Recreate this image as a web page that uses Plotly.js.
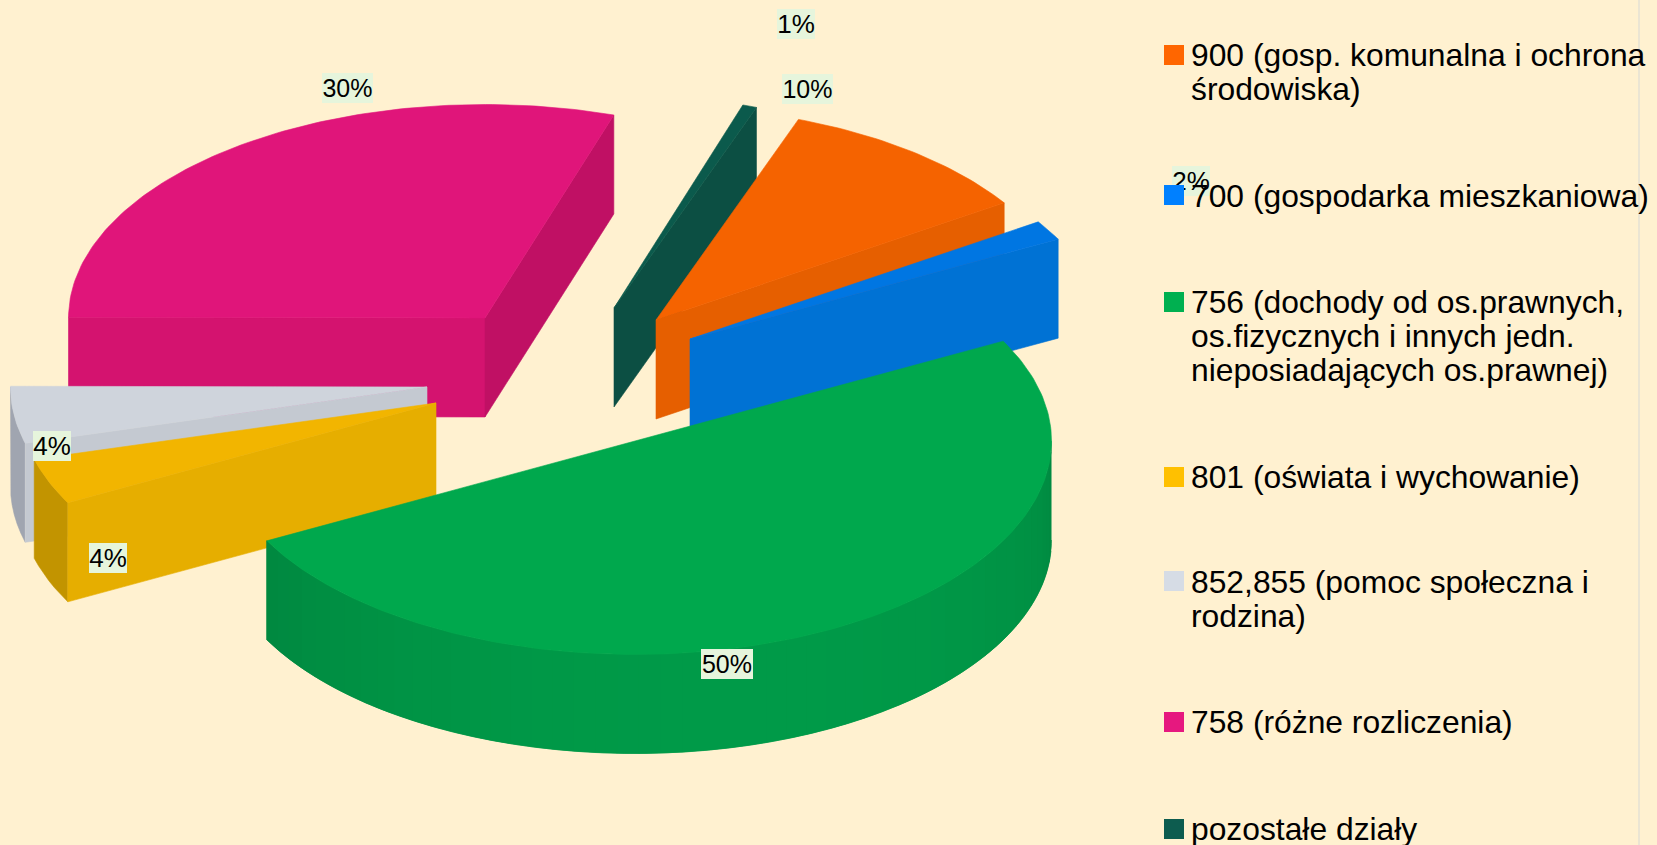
<!DOCTYPE html>
<html>
<head>
<meta charset="utf-8">
<script src="https://cdn.plot.ly/plotly-3.0.1.min.js"></script>
<style>html,body{margin:0;padding:0;background:#FFF1D0;overflow:hidden}#chart{width:1657px;height:845px}</style>
</head>
<body>
<div id="chart"></div>
<script>
// ---- data, in pie order (clockwise) ----
const categories = ['900','700','756','801','852,855','758','pozostałe działy'];
const shares = [10.2, 1.5, 50, 3.5, 4.3, 29.95, 0.55];
const legendLines = [
  ['900 (gosp. komunalna i ochrona','środowiska)'],
  ['700 (gospodarka mieszkaniowa)'],
  ['756 (dochody od os.prawnych,','os.fizycznych i innych jedn.','nieposiadających os.prawnej)'],
  ['801 (oświata i wychowanie)'],
  ['852,855 (pomoc społeczna i','rodzina)'],
  ['758 (różne rozliczenia)'],
  ['pozostałe działy']
];
// ---- styles ----
const legendColors = ['#FF6600','#0080FF','#00B050','#FFC000','#D6DCE5','#E6187F','#0D5C4F'];
const topColors    = ['#F56300','#0076E2','#00A84D','#F2B500','#CFD4DC','#E0157A','#0B5A4C'];
const wallColors   = ['#E65F00','#0072D4','#009A48','#E6AE00','#C4C9D1','#D4136F','#0C4F43'];
const endWallColors= ['#E65F00','#0072D4','#009A48','#E6AE00','#C4C9D1','#C01064','#0C4F43'];
const rimColors    = ['#E65F00','#0072D4','#009A48','#C29400','#A0A5B0','#D4136F','#0C4F43'];
// ---- layout parameters (pixels) ----
const cx = 635, cy = 441, rx = 416.5, ry = 213.5, depth = 99, startAngle = 20;
const pullX = [21, 55, 0, -199, -208, -150, -21];
const pullY = [-121, -102, 0, -38, -54, -123, -133];
const drawOrder = [5, 6, 0, 1, 4, 3, 2];
const labelX = [807, 1191, 727, 108, 52, 347, 796];
const labelY = [89, 181, 664, 558, 446, 88, 24];
const labelW = [51, 38, 52, 38, 38, 51, 38];
const labelSize = [25, 26, 25, 26, 26, 25, 26];
const swatchY = [55, 195, 302, 477, 581, 722, 829];
const lineY = [[55, 89], [196], [302, 336, 370], [476.5], [582, 616], [722], [829]];

const rad = d => d * Math.PI / 180;
const pt = (a, ox, oy, dz) => [cx + ox + rx * Math.sin(rad(a)), cy + oy - ry * Math.cos(rad(a)) + dz];
function poly(points, color) {
  return {
    type: 'scatter', mode: 'lines', x: points.map(p => p[0]), y: points.map(p => p[1]),
    fill: 'toself', fillcolor: color, line: {color: color, width: 0.6},
    hoverinfo: 'skip', showlegend: false
  };
}
function hexMix(a, b, t) {
  const p = s => [1, 3, 5].map(i => parseInt(s.substr(i, 2), 16));
  const A = p(a), B = p(b);
  return 'rgb(' + A.map((v, i) => Math.round(v + (B[i] - v) * t)).join(',') + ')';
}
const total = shares.reduce((s, v) => s + v, 0);
const starts = [];
let acc = startAngle;
shares.forEach(v => { starts.push(acc); acc += v / total * 360; });

const traces = [];
drawOrder.forEach(i => {
  const a0 = starts[i], a1 = a0 + shares[i] / total * 360, ox = pullX[i], oy = pullY[i];
  const apex = [cx + ox, cy + oy], apexB = [cx + ox, cy + oy + depth];
  // outer wall: front-facing portion of the rim; overlapping shaded strips, left to right
  const wa = Math.max(a0, 90), wb = Math.min(a1, 270);
  if (wb > wa) {
    const long = wb - wa > 45;                         // only a long wall shows shading
    const n = long ? Math.round((wb - wa) / 3) : 1;
    for (let k = 0; k < n; k++) {
      const s0 = wa + (wb - wa) * k / n;
      const s1 = k === n - 1 ? wb : wa + (wb - wa) * (k + 2) / n;   // reaches under the next strip
      const pts = [];
      for (let q = 0; q <= 6; q++) pts.push(pt(s0 + (s1 - s0) * q / 6, ox, oy, 0));
      for (let q = 6; q >= 0; q--) pts.push(pt(s0 + (s1 - s0) * q / 6, ox, oy, depth));
      const mid = wa + (wb - wa) * (k + 0.5) / n;
      const edge = Math.abs(mid - 165) / 75;           // darker toward the sides
      traces.push(poly(pts, long ? hexMix(rimColors[i], '#000000', 0.11 * Math.min(1, edge * edge)) : rimColors[i]));
    }
  }
  // radial walls that face the viewer
  if (Math.sin(rad(a0)) < 0) {
    const r = pt(a0, ox, oy, 0), rb = pt(a0, ox, oy, depth);
    traces.push(poly([apex, r, rb, apexB, apex], wallColors[i]));
  }
  if (Math.sin(rad(a1)) > 0) {
    const r = pt(a1, ox, oy, 0), rb = pt(a1, ox, oy, depth);
    traces.push(poly([apex, r, rb, apexB, apex], endWallColors[i]));
  }
  // top face
  const top = [apex];
  const steps = Math.max(2, Math.ceil(a1 - a0));
  for (let k = 0; k <= steps; k++) top.push(pt(a0 + (a1 - a0) * k / steps, ox, oy, 0));
  top.push(apex);
  traces.push(poly(top, topColors[i]));
});

const annotations = [];
const note = (x, y, text, extra) => annotations.push(Object.assign({
  xref: 'x', yref: 'y', x: x, y: y, text: text, showarrow: false, borderpad: 0, borderwidth: 0,
  xanchor: 'center', yanchor: 'middle', font: {family: 'Liberation Sans, Arial, sans-serif', color: '#000000', size: 31.8}
}, extra));
// percentage labels
shares.forEach((v, i) => note(labelX[i], labelY[i], Math.round(v) + '%', {
  width: labelW[i], height: 30, bgcolor: '#E6F5DC', font: {family: 'Liberation Sans, Arial, sans-serif', color: '#000000', size: labelSize[i]}
}));
// legend swatches and text
categories.forEach((c, i) => {
  note(1174, swatchY[i], ' ', {width: 19.5, height: 19.5, bgcolor: legendColors[i], font: {size: 6, color: legendColors[i]}});
  legendLines[i].forEach((line, j) => note(1191, lineY[i][j], line, {xanchor: 'left'}));
});

const layout = {
  width: 1657, height: 845, margin: {l: 0, r: 0, t: 0, b: 0, pad: 0},
  paper_bgcolor: '#FFF1D0', plot_bgcolor: '#FFF1D0', showlegend: false,
  xaxis: {range: [0, 1657], visible: false, fixedrange: true},
  yaxis: {range: [845, 0], visible: false, fixedrange: true},
  annotations: annotations,
  shapes: [{type: 'line', xref: 'paper', yref: 'paper', x0: 1639 / 1657, x1: 1639 / 1657, y0: 0, y1: 1, line: {color: '#E4E0D4', width: 1.5}, layer: 'below'}]
};
Plotly.newPlot('chart', traces, layout, {displayModeBar: false, staticPlot: true});
</script>
</body>
</html>
